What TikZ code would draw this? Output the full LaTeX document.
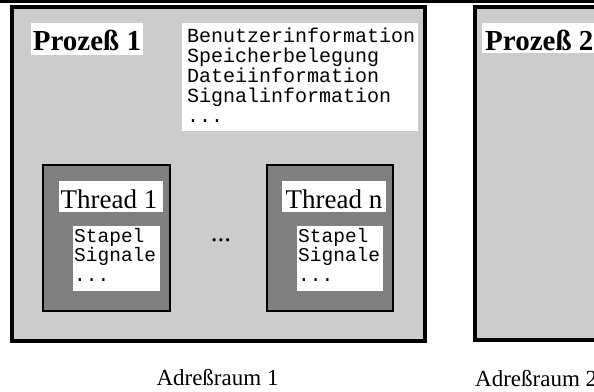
\documentclass[tikz,border=0pt]{standalone}
\usepackage{fontspec}
\setmainfont{Liberation Serif}
\setmonofont{Liberation Mono}
\definecolor{procgray}{HTML}{CCCCCC}
\definecolor{threadgray}{HTML}{808080}
\tikzset{
  process/.style={draw=black, line width=4pt, fill=procgray},
  threadbox/.style={draw=black, line width=1.7pt, fill=threadgray},
  whitebox/.style={fill=white, draw=none},
  proctitle/.style={inner sep=0pt, font=\fontsize{29}{29}\bfseries\selectfont},
  threadtitle/.style={inner sep=0pt, font=\fontsize{27}{27}\selectfont},
  infoline/.style={inner sep=0pt, anchor=base west, font=\fontsize{20}{20}\ttfamily\selectfont},
  stackline/.style={inner sep=0pt, anchor=base west, font=\fontsize{19.5}{19.5}\ttfamily\selectfont},
  spacelabel/.style={inner sep=0pt, font=\fontsize{23}{23}\selectfont},
}
\begin{document}
\begin{tikzpicture}[x=1pt, y=-1pt]
  \useasboundingbox (0,0) rectangle (594,391);
  \clip (0,0) rectangle (594,391);
  \fill[white] (0,0) rectangle (594,391);

  % rule along the top edge
  \draw[line width=2.7pt] (0,1.3) -- (594,1.3);

  % ---------------- address space 1 ----------------
  \draw[process] (12,6.5) rectangle (425,340.5);
  \fill[whitebox] (31,23) rectangle (143,55);
  \node[proctitle, anchor=base] (p1title) at (87,50) {Prozeß 1};

  \fill[whitebox] (182,23) rectangle (418,131);
  \node[infoline] (i1) at (187,42)  {Benutzerinformation};
  \node[infoline] (i2) at (187,62)  {Speicherbelegung};
  \node[infoline] (i3) at (187,82)  {Dateiinformation};
  \node[infoline] (i4) at (187,102) {Signalinformation};
  \node[infoline] (i5) at (187,122) {...};

  % thread 1
  \draw[threadbox] (43,165) rectangle (170,311);
  \fill[whitebox] (59,181) rectangle (163,212);
  \node[threadtitle, anchor=base] (t1title) at (109,208) {Thread 1};
  \fill[whitebox] (73,226) rectangle (160,291);
  \node[stackline] (t1a) at (74,242)   {Stapel};
  \node[stackline] (t1b) at (74,261.5) {Signale};
  \node[stackline] (t1c) at (74,281)   {...};

  % dots between the threads
  \node[threadtitle, anchor=base] (tdots) at (221,241) {...};

  % thread n
  \draw[threadbox] (267,165) rectangle (393,311);
  \fill[whitebox] (282,181) rectangle (386,212);
  \node[threadtitle, anchor=base] (tntitle) at (334,208) {Thread n};
  \fill[whitebox] (297,226) rectangle (383,291);
  \node[stackline] (tna) at (298,242)   {Stapel};
  \node[stackline] (tnb) at (298,261.5) {Signale};
  \node[stackline] (tnc) at (298,281)   {...};

  \node[spacelabel, anchor=base] (as1) at (217.5,385) {Adreßraum 1};

  % ---------------- address space 2 ----------------
  \draw[process] (474.5,7) rectangle (640,340);
  \fill[whitebox] (482,23) rectangle (600,53);
  \node[proctitle, anchor=base west] (p2title) at (485,50) {Prozeß 2};

  \node[spacelabel, anchor=base west] (as2) at (475,386) {Adreßraum 2};
\end{tikzpicture}
\end{document}
